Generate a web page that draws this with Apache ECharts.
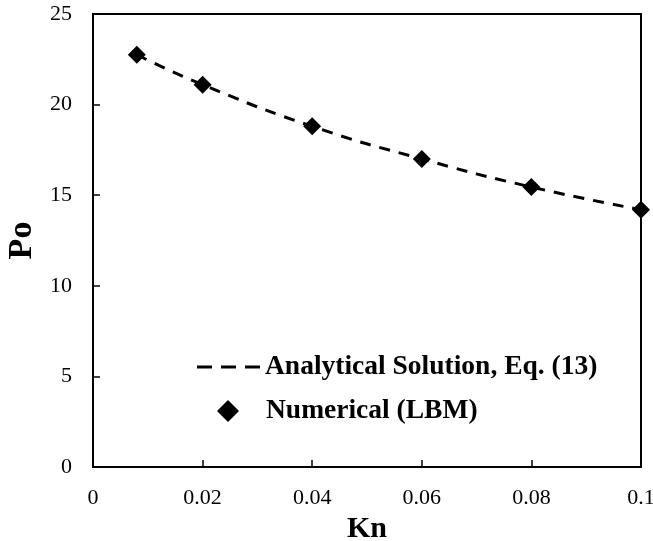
<!DOCTYPE html>
<html><head><meta charset="utf-8">
<script src="https://cdn.jsdelivr.net/npm/echarts@6/dist/echarts.min.js"></script>
<style>html,body{margin:0;padding:0;background:#fff}#c{width:653px;height:541px}</style>
</head><body><div id="c"></div>
<script>
const knValues = [0.008, 0.02, 0.04, 0.06, 0.08, 0.1];
const analyticalPo = [22.75, 21.1, 18.8, 17.0, 15.45, 14.2];
const numericalPo = [22.75, 21.1, 18.8, 17.0, 15.45, 14.2];
const xTicks = [0, 0.02, 0.04, 0.06, 0.08, 0.1];
const yTicks = [0, 5, 10, 15, 20, 25];
const seriesNames = ['Analytical Solution, Eq. (13)', 'Numerical (LBM)'];

const font = 'Liberation Serif';
const legendText = {fontFamily: font, fontWeight: 'bold', fontSize: 27.5, lineHeight: 28, color: '#000'};
const chart = echarts.init(document.getElementById('c'));
chart.setOption({
  animation: false,
  backgroundColor: '#fff',
  grid: {left: 93, right: 12, top: 14, bottom: 74, show: true, borderColor: '#000', borderWidth: 2,
         containLabel: false, outerBoundsMode: 'none'},
  legend: [
    {
      left: 197, top: 353, padding: 0,
      itemWidth: 63, itemHeight: 3,
      icon: 'path://M0,0h15v3h-15zM24,0h15v3h-15zM48,0h15v3h-15z',
      textStyle: legendText,
      data: [seriesNames[0]]
    },
    {
      left: 217, top: 397, padding: 0,
      itemWidth: 22, itemHeight: 22,
      icon: 'diamond',
      itemStyle: {opacity: 1},
      textStyle: Object.assign({}, legendText, {padding: [0, 0, 0, 22]}),
      data: [seriesNames[1]]
    }
  ],
  xAxis: {
    type: 'value', min: 0, max: 0.1, interval: 0.02,
    name: 'Kn', nameLocation: 'middle', nameGap: 45,
    nameTextStyle: {fontFamily: font, fontWeight: 'bold', fontSize: 30, color: '#000'},
    axisLine: {lineStyle: {color: '#000', width: 2}},
    axisTick: {inside: true, length: 7, lineStyle: {color: '#000', width: 1.5}},
    splitLine: {show: false},
    axisLabel: {fontFamily: font, fontSize: 22, color: '#000', margin: 20,
      formatter: v => xTicks.includes(+v.toFixed(2)) ? String(+v.toFixed(2)) : ''}
  },
  yAxis: {
    type: 'value', min: 0, max: 25, interval: 5,
    name: 'Po', nameLocation: 'middle', nameGap: 43, nameRotate: 90,
    nameTextStyle: {fontFamily: font, fontWeight: 'bold', fontSize: 34, color: '#000'},
    axisLine: {lineStyle: {color: '#000', width: 2}},
    axisTick: {inside: true, length: 7, lineStyle: {color: '#000', width: 1.5}},
    splitLine: {show: false},
    axisLabel: {fontFamily: font, fontSize: 22, color: '#000', margin: 21,
      formatter: v => yTicks.includes(v) ? String(v) : ''}
  },
  series: [
    {
      name: seriesNames[0], type: 'line', smooth: true,
      showSymbol: false, symbol: 'none',
      data: knValues.map((k, i) => [k, analyticalPo[i]]),
      lineStyle: {color: '#000', width: 3, type: [11, 9]},
      itemStyle: {color: '#000'}
    },
    {
      name: seriesNames[1], type: 'scatter', symbol: 'diamond', symbolSize: 18,
      data: knValues.map((k, i) => [k, numericalPo[i]]),
      itemStyle: {color: '#000', opacity: 1}, z: 5
    }
  ]
});
</script></body></html>
